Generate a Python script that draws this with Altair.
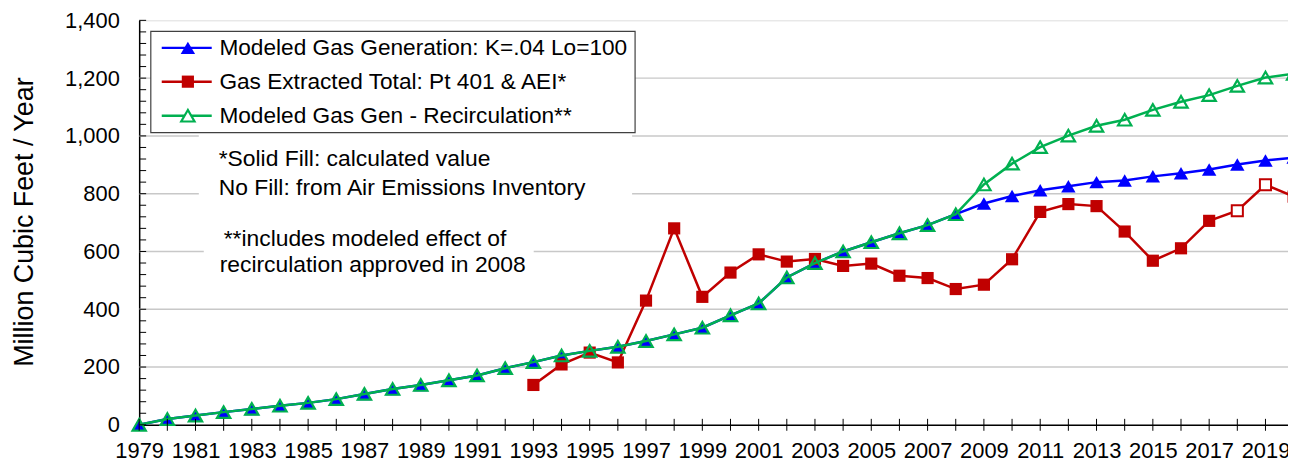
import altair as alt
import pandas as pd

# ---------------- data ----------------
years = list(range(1979, 2021))
modeled_gen = [0, 20, 32, 44, 55, 66, 76, 89, 107, 124,
               138, 154, 171, 196, 217, 240, 256, 270, 290, 313,
               336, 379, 420, 510, 560, 600, 632, 663, 691, 729,
               766, 792, 812, 826, 840, 846, 860, 871, 884, 901,
               915, 925]
recirc = [0, 20, 32, 44, 55, 66, 76, 89, 107, 124,
          138, 154, 171, 196, 217, 240, 256, 270, 290, 313,
          336, 379, 420, 510, 560, 600, 632, 663, 691, 729,
          832, 904, 961, 1001, 1035, 1056, 1090, 1118, 1141, 1173,
          1202, 1215]
extracted_years = list(range(1993, 2021))
extracted = [138, 209, 250, 216, 430, 680, 443, 527, 590, 565,
             574, 550, 558, 516, 508, 470, 485, 573, 737, 764,
             757, 669, 568, 611, 706, 741, 831, 790]
extracted_source = ["calc"] * 25 + ["aei", "aei"] + ["calc"]

label_years = list(range(1979, 2021, 2))
y_label_values = [0, 200, 400, 600, 800, 1000, 1200, 1400]
grid_values = [200, 400, 600, 800, 1000, 1200]
minor_y_ticks = list(range(0, 1401, 40))

legend_labels = ["Modeled Gas Generation: K=.04 Lo=100",
                 "Gas Extracted Total: Pt 401 & AEI*",
                 "Modeled Gas Gen - Recirculation**"]
note_lines = ["*Solid Fill: calculated value",
              "No Fill: from Air Emissions Inventory",
              "**includes modeled effect of",
              "recirculation approved in 2008"]
y_title = "Million Cubic Feet / Year"

BLUE = "#0000FF"
RED = "#C00000"
GREEN = "#00B050"
FONT = "Liberation Sans"

W, H = 1156, 407

df_blue = pd.DataFrame({"year": years, "val": modeled_gen})
df_green = pd.DataFrame({"year": years, "val": recirc})
df_red = pd.DataFrame({"year": extracted_years, "val": extracted, "src": extracted_source})

xs = alt.Scale(domain=[1979, 2019.8], nice=False, zero=False)
ys = alt.Scale(domain=[0, 1400], nice=False)

x_axis = alt.Axis(values=label_years, format="d", grid=False, ticks=False, tickSize=0,
                  labelPadding=16, labelFontSize=22, labelColor="black", labelFont=FONT,
                  domainColor="black", domainWidth=1.5, title=None, labelFlush=False,
                  labelOverlap=False)
y_axis = alt.Axis(values=y_label_values, format=",d", grid=False, ticks=False, tickSize=0,
                  labelPadding=20, labelFontSize=22, labelColor="black", labelFont=FONT,
                  domainColor="black", domainWidth=1.5, title=y_title,
                  titleFontSize=27, titleFontWeight="normal", titleFont=FONT, titleColor="black",
                  titleX=-115, titleY=H / 2 - 1, titleAngle=270, titleAlign="center",
                  titleBaseline="middle", labelFlush=False)


def X(field="year"):
    return alt.X(f"{field}:Q", scale=xs, axis=x_axis)


def Y(field="val"):
    return alt.Y(f"{field}:Q", scale=ys, axis=y_axis)


one = pd.DataFrame({"k": [0]})

# gridlines
grid = alt.Chart(pd.DataFrame({"val": grid_values})).mark_rule(
    color="#c8c8c8", strokeWidth=1.5).encode(y=Y(), x=alt.value(0), x2=alt.value(W))

# white boxes behind notes
box1 = alt.Chart(one).mark_rect(fill="white").encode(
    x=alt.value(60), x2=alt.value(496), y=alt.value(114), y2=alt.value(182))
box2 = alt.Chart(one).mark_rect(fill="white").encode(
    x=alt.value(65), x2=alt.value(397), y=alt.value(206), y2=alt.value(262))

note_pos = [(80, 140), (80, 168.5), (85, 220), (81, 246.5)]
notes = []
for txt, (nx, ny) in zip(note_lines, note_pos):
    notes.append(alt.Chart(pd.DataFrame({"t": [txt]})).mark_text(
        align="left", baseline="middle", fontSize=23, font=FONT, color="black").encode(
        text="t:N", x=alt.value(nx), y=alt.value(ny)))

# series
blue_line = alt.Chart(df_blue).mark_line(color=BLUE, strokeWidth=2.5).encode(x=X(), y=Y())
blue_pts = alt.Chart(df_blue).mark_point(shape="triangle-up", filled=True, color=BLUE,
                                         size=210, opacity=1).encode(x=X(), y=Y())
red_line = alt.Chart(df_red).mark_line(color=RED, strokeWidth=2.5).encode(x=X(), y=Y())
red_calc = alt.Chart(df_red).transform_filter(alt.datum.src == "calc").mark_point(
    shape="square", filled=True, color=RED, size=150, opacity=1).encode(x=X(), y=Y())
red_aei = alt.Chart(df_red).transform_filter(alt.datum.src == "aei").mark_point(
    shape="square", filled=True, fill="white", stroke=RED, strokeWidth=2, size=125,
    opacity=1).encode(x=X(), y=Y())
green_line = alt.Chart(df_green).mark_line(color=GREEN, strokeWidth=2.5).encode(x=X(), y=Y())
green_pts = alt.Chart(df_green).mark_point(shape="triangle-up", filled=False, stroke=GREEN,
                                           strokeWidth=2.2, size=180, opacity=1).encode(x=X(), y=Y())

# axis ticks
y_ticks = alt.Chart(pd.DataFrame({"val": minor_y_ticks})).mark_rule(
    color="black", strokeWidth=1).encode(y=Y(), x=alt.value(0), x2=alt.value(7))
x_ticks = alt.Chart(pd.DataFrame({"year": years})).transform_filter(
    alt.datum.year <= 2019).mark_rule(color="black", strokeWidth=1).encode(
    x=X(), y=alt.value(H - 6), y2=alt.value(H + 6))

# legend
leg_box = alt.Chart(one).mark_rect(fill="white", stroke="#404040", strokeWidth=1.2).encode(
    x=alt.value(11.7), x2=alt.value(499), y=alt.value(11), y2=alt.value(113))
leg_rows = [27.7, 61.7, 96]
leg_colors = [BLUE, RED, GREEN]
legend_layers = [leg_box]
for i, (lab, ly, col) in enumerate(zip(legend_labels, leg_rows, leg_colors)):
    d = pd.DataFrame({"t": [lab]})
    legend_layers.append(alt.Chart(d).mark_rule(color=col, strokeWidth=2.5).encode(
        x=alt.value(22.7), x2=alt.value(73), y=alt.value(ly)))
    if i == 0:
        mk = alt.Chart(d).mark_point(shape="triangle-up", filled=True, color=BLUE, size=210, opacity=1)
    elif i == 1:
        mk = alt.Chart(d).mark_point(shape="square", filled=True, color=RED, size=150, opacity=1)
    else:
        mk = alt.Chart(d).mark_point(shape="triangle-up", filled=True, fill="white", stroke=GREEN,
                                     strokeWidth=2.2, size=180, opacity=1)
    legend_layers.append(mk.encode(x=alt.value(49), y=alt.value(ly)))
    legend_layers.append(alt.Chart(d).mark_text(
        align="left", baseline="middle", fontSize=22.8, font=FONT, color="black").encode(
        text="t:N", x=alt.value(80.7), y=alt.value(ly)))

chart = alt.layer(
    grid, box1, box2, *notes,
    blue_line, blue_pts, red_line, red_calc, red_aei, green_line, green_pts,
    y_ticks, x_ticks, *legend_layers
).properties(
    width=W, height=H,
    padding={"left": 132, "top": 11, "right": 0, "bottom": 38},
    autosize=alt.AutoSizeParams(type="none"),
).configure_view(stroke=None).configure(font=FONT)

chart.save("out.html", embed_options={"renderer": "svg", "actions": False})
